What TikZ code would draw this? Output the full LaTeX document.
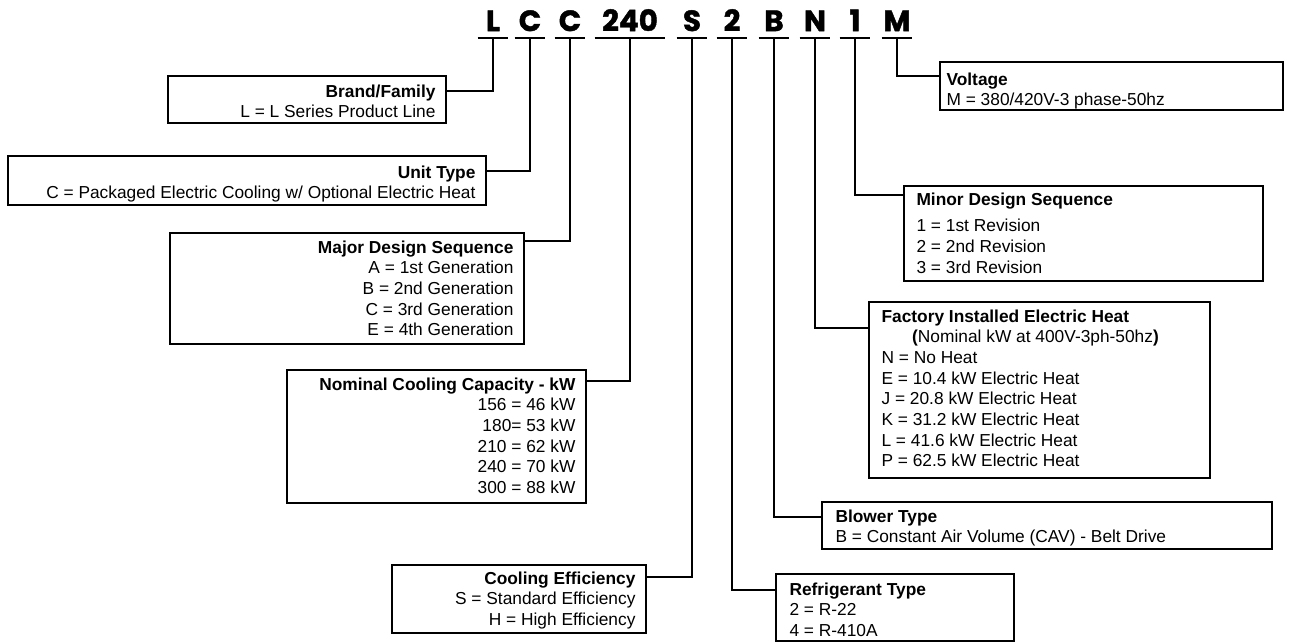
\documentclass[tikz,border=0pt]{standalone}
\usepackage{fontspec}
\setmainfont{Liberation Sans}
\newfontfamily\codefont{Poppins}[BoldFeatures={FakeBold=1.5}]
\usetikzlibrary{fit,calc}

\tikzset{
  codechar/.style={font=\codefont\bfseries\fontsize{22}{22}\selectfont, anchor=south,
    inner xsep=0pt, inner ysep=5pt, text depth=0pt, minimum width=22.5pt},
  codeline/.style={line width=1.5pt},
  wire/.style={line width=1.5pt},
  keybox/.style={draw, line width=1.1pt, inner sep=0pt},
  keytext/.style={inner sep=0pt, font=\fontsize{13}{15.5}\selectfont},
}

\begin{document}
\begin{tikzpicture}[x=0.75pt,y=-0.75pt]
\useasboundingbox (0,0) rectangle (1292,642);

\node[codechar] (cL) at (493,38) {L};
\node[codechar] (cC) at (530,38) {C};
\node[codechar] (cCC) at (570,38) {C};
\node[codechar, minimum width=52.5pt] (cCap) at (630,38) {240};
\node[codechar] (cS) at (692,38) {S};
\node[codechar] (c2) at (732,38) {2};
\node[codechar] (cB) at (774,38) {B};
\node[codechar] (cN) at (815,38) {N};
\node[codechar] (c1) at (855,38) {1};
\node[codechar] (cM) at (897,38) {M};
\foreach \c in {cL,cC,cCC,cCap,cS,c2,cB,cN,c1,cM}
  \draw[codeline] (\c.south west) -- (\c.south east);

\node[keybox, fit={(168,76) (446,123)}] (brand) {};
\node[keybox, fit={(8,156) (486,205)}] (unit) {};
\node[keybox, fit={(170,233) (524,344)}] (major) {};
\node[keybox, fit={(287,370) (586,503)}] (capacity) {};
\node[keybox, fit={(392,565) (646,633)}] (effic) {};
\node[keybox, fit={(776,574) (1014,641)}] (refrig) {};
\node[keybox, fit={(822,502) (1272,549)}] (blower) {};
\node[keybox, fit={(869,302) (1210,478)}] (heat) {};
\node[keybox, fit={(904,186) (1263,281)}] (minor) {};
\node[keybox, fit={(940,62) (1283,110)}] (voltage) {};

\node[keytext, anchor=north east, align=right] (brandtxt) at ($(brand.north east)+(-11,9)$)
  {\textbf{Brand/Family}\\L = L Series Product Line};
\node[keytext, anchor=north east, align=right] (unittxt) at ($(unit.north east)+(-11,10)$)
  {\textbf{Unit Type}\\C = Packaged Electric Cooling w/ Optional Electric Heat};
\node[keytext, anchor=north east, align=right] (majortxt) at ($(major.north east)+(-11,8)$)
  {\textbf{Major Design Sequence}\\A = 1st Generation\\B = 2nd Generation\\C = 3rd Generation\\E = 4th Generation};
\node[keytext, anchor=north east, align=right] (capacitytxt) at ($(capacity.north east)+(-11,8)$)
  {\textbf{Nominal Cooling Capacity - kW}\\156 = 46 kW\\180= 53 kW\\210 = 62 kW\\240 = 70 kW\\300 = 88 kW};
\node[keytext, anchor=north east, align=right] (effictxt) at ($(effic.north east)+(-11,7)$)
  {\textbf{Cooling Efficiency}\\S = Standard Efficiency\\H = High Efficiency};
\node[keytext, anchor=north west, align=left] (refrigtxt) at ($(refrig.north west)+(14,9)$)
  {\textbf{Refrigerant Type}\\2 = R-22\\4 = R-410A};
\node[keytext, anchor=north west, align=left] (blowertxt) at ($(blower.north west)+(14,8)$)
  {\textbf{Blower Type}\\B = Constant Air Volume (CAV) - Belt Drive};
\node[keytext, anchor=north west, align=left] (heattxt) at ($(heat.north west)+(13,8)$)
  {\textbf{Factory Installed Electric Heat}\\\hspace*{23pt}\textbf{(}Nominal kW at 400V-3ph-50hz\textbf{)}\\N = No Heat\\E = 10.4 kW Electric Heat\\J = 20.8 kW Electric Heat\\K = 31.2 kW Electric Heat\\L = 41.6 kW Electric Heat\\P = 62.5 kW Electric Heat};
\node[keytext, anchor=north west, align=left] (minortxt) at ($(minor.north west)+(13,7)$)
  {\textbf{Minor Design Sequence}\\[4.5pt]1 = 1st Revision\\2 = 2nd Revision\\3 = 3rd Revision};
\node[keytext, anchor=north west, align=left] (voltagetxt) at ($(voltage.north west)+(7,11)$)
  {\textbf{Voltage}\\M = 380/420V-3 phase-50hz};

\draw[wire] ($(brand.north east)+(0,16)$) -| (cL.south);
\draw[wire] ($(unit.north east)+(0,16)$) -| (cC.south);
\draw[wire] ($(major.north east)+(0,9)$) -| (cCC.south);
\draw[wire] ($(capacity.north east)+(0,12)$) -| (cCap.south);
\draw[wire] ($(effic.north east)+(0,13)$) -| (cS.south);
\draw[wire] ($(refrig.north west)+(0,17)$) -| (c2.south);
\draw[wire] ($(blower.north west)+(0,16)$) -| (cB.south);
\draw[wire] ($(heat.north west)+(0,27)$) -| (cN.south);
\draw[wire] ($(minor.north west)+(0,10)$) -| (c1.south);
\draw[wire] ($(voltage.north west)+(0,15)$) -| (cM.south);
\end{tikzpicture}
\end{document}
